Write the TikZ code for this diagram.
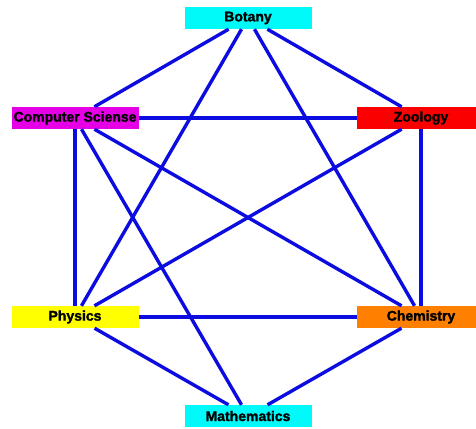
\documentclass[tikz,border=0pt]{standalone}
\usepackage{fontspec}
\setmainfont{Liberation Sans}
\newfontfamily\heavyfont[FakeBold=1.6]{Liberation Sans Bold}
\definecolor{linkblue}{RGB}{12,12,225}
\definecolor{cyanbox}{RGB}{0,250,250}
\definecolor{magbox}{RGB}{230,0,230}
\definecolor{redbox}{RGB}{250,0,0}
\definecolor{yelbox}{RGB}{255,255,0}
\definecolor{orabox}{RGB}{255,128,0}
\begin{document}
\begin{tikzpicture}[x=1pt,y=-1pt,
  box/.style={minimum width=127pt, minimum height=22pt, inner sep=0pt,
    font=\fontsize{14}{14}\selectfont\heavyfont, text=black},
  link/.style={draw=linkblue, line width=3.4pt}]
\useasboundingbox (0,0) rectangle (476,428);
\clip (0,0) rectangle (476,428);
\fill[white] (0,0) rectangle (476,428);
\node[box, fill=cyanbox] (bot) at (248,18) {Botany};
\node[box, fill=magbox] (cs) at (75,118) {Computer Sciense};
\node[box, fill=redbox, minimum width=128pt] (zoo) at (421,118) {Zoology};
\node[box, fill=yelbox] (phy) at (75,317) {Physics};
\node[box, fill=orabox, minimum width=128pt] (che) at (421,317) {Chemistry};
\node[box, fill=cyanbox] (mat) at (248,416) {Mathematics};
\draw[link] (bot) -- (cs);
\draw[link] (bot) -- (zoo);
\draw[link] (bot) -- (phy);
\draw[link] (bot) -- (che);
\draw[link] (cs) -- (zoo);
\draw[link] (cs) -- (phy);
\draw[link] (cs) -- (che);
\draw[link] (cs) -- (mat);
\draw[link] (zoo) -- (phy);
\draw[link] (zoo) -- (che);
\draw[link] (phy) -- (che);
\draw[link] (phy) -- (mat);
\draw[link] (che) -- (mat);
\end{tikzpicture}
\end{document}
